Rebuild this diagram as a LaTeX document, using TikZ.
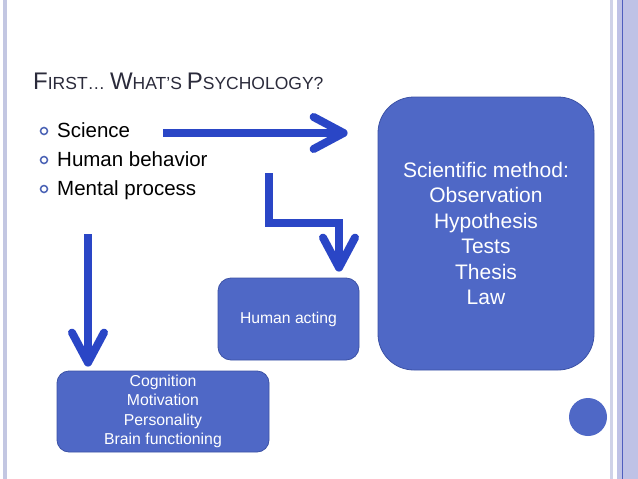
\documentclass[tikz,border=0pt]{standalone}
\usepackage{fontspec}
\setmainfont{Liberation Sans}
\usetikzlibrary{arrows.meta}
\definecolor{boxfill}{HTML}{4F68C6}
\definecolor{boxline}{HTML}{3C52A6}
\definecolor{arrowblue}{HTML}{2A46C6}
\definecolor{bulletc}{HTML}{4A62B5}
\definecolor{titlec}{HTML}{2B2B3B}
\definecolor{bandc}{HTML}{BFC2E6}
\definecolor{bandline}{HTML}{4F5EBE}
\definecolor{leftband}{HTML}{C3C7E2}
\newcommand{\tbig}{\fontsize{24}{24}\selectfont}
\newcommand{\tsm}{\fontsize{17.5}{17.5}\selectfont}
\tikzset{
  box/.style={draw=boxline, fill=boxfill, line width=0.8pt, text=white, align=center, inner sep=0pt},
  bigarrow/.style={draw=arrowblue, line width=8pt, line join=miter,
    -{Straight Barb[length=30pt,width=32pt,round]}},
  bulletring/.style={circle, draw=bulletc, line width=1.5pt, minimum size=7pt, inner sep=0pt},
  itemtext/.style={anchor=base west, inner sep=0pt, font=\fontsize{20.5}{24}\selectfont}
}
\begin{document}
\begin{tikzpicture}[x=1pt,y=-1pt]
\useasboundingbox (0,0) rectangle (638,479);
\fill[white] (0,0) rectangle (638,479);
% borders
\fill[leftband] (3,0) rectangle (7,479);
\fill[leftband!80!white] (610,0) rectangle (613,479);
\fill[bandc] (617,0) rectangle (638,479);
\draw[bandline, line width=1.2pt] (622.5,0) -- (622.5,479);
% title
\node[anchor=base west, inner sep=0pt, text=titlec] (title) at (33,89)
  {\tbig F\tsm IRST\ldots{} \tbig W\tsm HAT’S \tbig P\tsm SYCHOLOGY?};
% bullets
\node[bulletring] (b1) at (44,131) {};
\node[bulletring] (b2) at (44,160) {};
\node[bulletring] (b3) at (44,189) {};
\node[itemtext] (t1) at (57,137) {Science};
\node[itemtext] (t2) at (57,166) {Human behavior};
\node[itemtext] (t3) at (57,195) {Mental process};
% boxes
\node[box, minimum width=216pt, minimum height=273pt, rounded corners=36pt,
  font=\fontsize{21}{25.5}\selectfont] (sci) at (486,233.5)
  {Scientific method:\\Observation\\Hypothesis\\Tests\\Thesis\\Law};
\node[box, minimum width=141pt, minimum height=82pt, rounded corners=13pt,
  font=\fontsize{15.7}{19}\selectfont] (act) at (288.5,319) {Human acting};
\node[box, minimum width=212pt, minimum height=81pt, rounded corners=12pt,
  font=\fontsize{15.8}{19.3}\selectfont] (cog) at (163,411.5)
  {Cognition\\Motivation\\Personality\\Brain functioning};
\node[circle, fill=boxfill, minimum size=38pt, inner sep=0pt] (dot) at (588,417) {};
% arrows
\coordinate (s1) at (163,133);
\coordinate (s2) at (269,173);
\coordinate (c2) at (339,223);
\coordinate (s3) at (88,234);
\draw[bigarrow, shorten >=30pt] (s1) -- (sci.west |- s1);
\draw[bigarrow, shorten >=6pt] (s2) |- (c2) -- (c2 |- act.north);
\draw[bigarrow, shorten >=4pt] (s3) -- (s3 |- cog.north);
\end{tikzpicture}
\end{document}
